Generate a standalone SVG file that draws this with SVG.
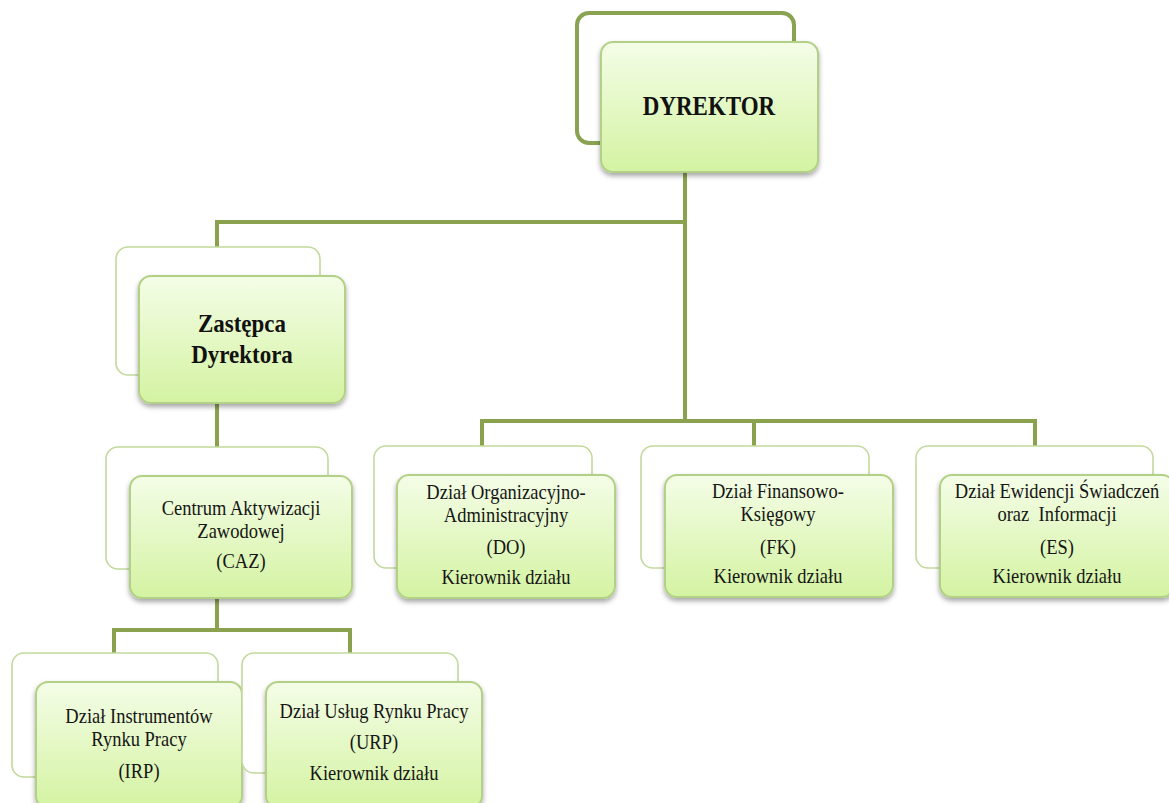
<svg xmlns="http://www.w3.org/2000/svg" width="1169" height="803" viewBox="0 0 1169 803">
<defs>
  <linearGradient id="g" x1="0" y1="0" x2="0" y2="1">
    <stop offset="0" stop-color="#f4fde7"/>
    <stop offset="1" stop-color="#d4f3a2"/>
  </linearGradient>
  <filter id="sh" x="-10%" y="-10%" width="120%" height="130%">
    <feDropShadow dx="0" dy="3" stdDeviation="2.5" flood-color="#000" flood-opacity="0.35"/>
  </filter>
</defs>
<style>
  .back{fill:#fff;stroke:#c2d99c;stroke-width:1.6}
  .backd{fill:#fff;stroke:#8aa351;stroke-width:4}
  .front{fill:url(#g);stroke:#b3d186;stroke-width:2;filter:url(#sh)}
  .t{font-family:"Liberation Serif","Times New Roman",serif;font-size:18.5px;fill:#151515;text-anchor:middle}
  .b{font-family:"Liberation Serif","Times New Roman",serif;font-weight:bold;fill:#111;text-anchor:middle}
  .c{fill:none;stroke:#8aa24e;stroke-width:4}
</style>
<rect width="1169" height="803" fill="#fff"/>
<g id="connectors">
  <path class="c" d="M685 172 V222 H217 V247"/>
  <path class="c" d="M685 222 V421 H482 V446"/>
  <path class="c" d="M685 421 H1035 V446"/>
  <path class="c" d="M754 421 V446"/>
  <path class="c" d="M217 403 V447"/>
  <path class="c" d="M217 598 V630 H114 V653"/>
  <path class="c" d="M217 630 H350 V653"/>
</g>
<g id="dyrektor">
  <rect class="backd" x="577" y="13" width="217" height="130" rx="12"/>
  <rect class="front" x="601" y="42" width="217" height="130" rx="12"/>
  <text class="b" font-size="23" transform="translate(709,115) scale(1,1.15)">DYREKTOR</text>
</g>
<g id="zastepca">
  <rect class="back" x="116" y="247" width="204" height="128" rx="12"/>
  <rect class="front" x="139" y="276" width="206" height="127" rx="12"/>
  <text class="b" font-size="23" transform="translate(242,332) scale(1,1.08)">Zastępca</text>
  <text class="b" font-size="23" transform="translate(242,363) scale(1,1.08)">Dyrektora</text>
</g>
<g id="caz">
  <rect class="back" x="106" y="447" width="222" height="122" rx="12"/>
  <rect class="front" x="130" y="476" width="222" height="122" rx="12"/>
  <text class="t" transform="translate(241,515) scale(1,1.1)">Centrum Aktywizacji</text>
  <text class="t" transform="translate(241,538) scale(1,1.1)">Zawodowej</text>
  <text class="t" transform="translate(241,568) scale(1,1.1)">(CAZ)</text>
</g>
<g id="do">
  <rect class="back" x="374" y="446" width="218" height="122" rx="12"/>
  <rect class="front" x="397" y="475" width="218" height="123" rx="12"/>
  <text class="t" transform="translate(506,499) scale(1,1.1)">Dział Organizacyjno-</text>
  <text class="t" transform="translate(506,522) scale(1,1.1)">Administracyjny</text>
  <text class="t" transform="translate(506,554) scale(1,1.1)">(DO)</text>
  <text class="t" transform="translate(506,584) scale(1,1.1)">Kierownik działu</text>
</g>
<g id="fk">
  <rect class="back" x="641" y="446" width="228" height="122" rx="12"/>
  <rect class="front" x="665" y="475" width="228" height="122" rx="12"/>
  <text class="t" transform="translate(778,498) scale(1,1.1)">Dział Finansowo-</text>
  <text class="t" transform="translate(778,521) scale(1,1.1)">Księgowy</text>
  <text class="t" transform="translate(778,554) scale(1,1.1)">(FK)</text>
  <text class="t" transform="translate(778,583) scale(1,1.1)">Kierownik działu</text>
</g>
<g id="es">
  <rect class="back" x="916" y="446" width="237" height="122" rx="12"/>
  <rect class="front" x="940" y="475" width="234" height="122" rx="12"/>
  <text class="t" transform="translate(1057,498) scale(1,1.1)">Dział Ewidencji Świadczeń</text>
  <text class="t" transform="translate(1057,521) scale(1,1.1)" xml:space="preserve">oraz  Informacji</text>
  <text class="t" transform="translate(1057,554) scale(1,1.1)">(ES)</text>
  <text class="t" transform="translate(1057,583) scale(1,1.1)">Kierownik działu</text>
</g>
<g id="irp">
  <rect class="back" x="12" y="653" width="206" height="124" rx="12"/>
  <rect class="front" x="36" y="682" width="206" height="126" rx="12"/>
  <text class="t" transform="translate(139,723) scale(1,1.1)">Dział Instrumentów</text>
  <text class="t" transform="translate(139,746) scale(1,1.1)">Rynku Pracy</text>
  <text class="t" transform="translate(139,778) scale(1,1.1)">(IRP)</text>
</g>
<g id="urp">
  <rect class="back" x="242" y="653" width="216" height="120" rx="12"/>
  <rect class="front" x="266" y="682" width="216" height="126" rx="12"/>
  <text class="t" transform="translate(374,718) scale(1,1.1)">Dział Usług Rynku Pracy</text>
  <text class="t" transform="translate(374,749) scale(1,1.1)">(URP)</text>
  <text class="t" transform="translate(374,780) scale(1,1.1)">Kierownik działu</text>
</g>
</svg>
